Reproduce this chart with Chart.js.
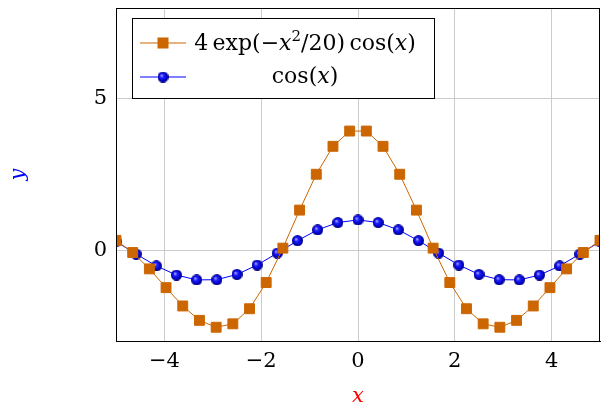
<!DOCTYPE html>
<html>
<head>
<meta charset="utf-8">
<script src="https://cdn.jsdelivr.net/npm/chart.js@4"></script>
<style>
  html, body { margin: 0; padding: 0; background: #fff; }
  #wrap { width: 608px; height: 403px; }
</style>
</head>
<body>
<div id="wrap"><canvas id="plot"></canvas></div>
<script>
// sample positions and values
const gaussX = [-5, -4.655, -4.310, -3.966, -3.621, -3.276, -2.931, -2.586, -2.241, -1.897,
  -1.552, -1.207, -0.862, -0.517, -0.172, 0.172, 0.517, 0.862, 1.207, 1.552,
  1.897, 2.241, 2.586, 2.931, 3.276, 3.621, 3.966, 4.310, 4.655, 5];
const gaussY = [0.325, -0.077, -0.618, -1.238, -1.843, -2.318, -2.546, -2.433, -1.934, -1.069,
  0.068, 1.324, 2.508, 3.431, 3.935, 3.935, 3.431, 2.508, 1.324, 0.068,
  -1.069, -1.934, -2.433, -2.546, -2.318, -1.843, -1.238, -0.618, -0.077, 0.325];
const cosX = [-5, -4.583, -4.167, -3.75, -3.333, -2.917, -2.5, -2.083, -1.667, -1.25, -0.833, -0.417, 0,
  0.417, 0.833, 1.25, 1.667, 2.083, 2.5, 2.917, 3.333, 3.75, 4.167, 4.583, 5];
const cosY = [0.284, -0.129, -0.519, -0.821, -0.982, -0.975, -0.801, -0.490, -0.096, 0.315, 0.672, 0.914, 1.0,
  0.914, 0.672, 0.315, -0.096, -0.490, -0.801, -0.975, -0.982, -0.821, -0.519, -0.129, 0.284];
const xTicks = [-4, -2, 0, 2, 4];
const yTicks = [0, 5];

const orange = "#cc6600";
const blue = "#0000ff";
const serif = "'DejaVu Serif', serif";

// shaded ball marker like pgfplots "ball"
const makeBall = (d) => {
  const c = document.createElement("canvas");
  c.width = d; c.height = d;
  const g = c.getContext("2d");
  const r = d / 2;
  const grad = g.createRadialGradient(r * 0.7, r * 0.7, 0, r, r, r);
  grad.addColorStop(0, "#c8c8ff");
  grad.addColorStop(0.35, "#2020ff");
  grad.addColorStop(0.8, "#0000c0");
  grad.addColorStop(1, "#000070");
  g.fillStyle = grad;
  g.beginPath();
  g.arc(r, r, r, 0, Math.PI * 2);
  g.fill();
  return c;
};
const ball = makeBall(11);

const toPts = (xs, ys) => xs.map((x, i) => ({ x: x, y: ys[i] }));
const minus = (v) => String(v).replace("-", "\u2212");

const frame = {
  id: "frame",
  afterDraw(chart) {
    const { ctx, chartArea: a } = chart;
    ctx.save();
    ctx.strokeStyle = "#000";
    ctx.lineWidth = 1;
    ctx.strokeRect(Math.round(a.left) + 0.5, Math.round(a.top) + 0.5,
      Math.round(a.right - a.left) - 1, Math.round(a.bottom - a.top));

    // legend box
    const bx = 132.5, by = 18.5, bw = 302, bh = 80;
    ctx.fillStyle = "#fff";
    ctx.fillRect(bx, by, bw, bh);
    ctx.strokeRect(bx, by, bw, bh);

    const rows = [43, 77];
    // sample lines
    ctx.lineWidth = 1;
    ctx.strokeStyle = orange;
    ctx.beginPath(); ctx.moveTo(140, rows[0]); ctx.lineTo(186, rows[0]); ctx.stroke();
    ctx.fillStyle = orange;
    ctx.fillRect(157.5, rows[0] - 5.5, 11, 11);
    ctx.strokeStyle = blue;
    ctx.beginPath(); ctx.moveTo(140, rows[1]); ctx.lineTo(186, rows[1]); ctx.stroke();
    ctx.drawImage(ball, 163 - 5.5, rows[1] - 5.5);

    // rich text
    const up = "22px " + serif, it = "italic 22px " + serif, sm = "15px " + serif;
    const line1 = [["4\u2009exp(\u2212", up, 0], ["x", it, 0], ["2", sm, -9], ["/20)\u2009cos(", up, 0], ["x", it, 0], [")", up, 0]];
    const line2 = [["cos(", up, 0], ["x", it, 0], [")", up, 0]];
    const base = [50, 83];
    const center = 305;
    ctx.fillStyle = "#000";
    ctx.textBaseline = "alphabetic";
    [line1, line2].forEach((parts, k) => {
      let w = 0;
      parts.forEach(p => { ctx.font = p[1]; w += ctx.measureText(p[0]).width; });
      let x = center - w / 2;
      parts.forEach(p => {
        ctx.font = p[1];
        ctx.fillText(p[0], x, base[k] + p[2]);
        x += ctx.measureText(p[0]).width;
      });
    });
    ctx.restore();
  }
};

new Chart(document.querySelector("#plot"), {
  type: "scatter",
  data: {
    datasets: [
      {
        label: "gauss",
        data: toPts(gaussX, gaussY),
        showLine: true,
        borderColor: orange,
        borderWidth: 1,
        backgroundColor: orange,
        pointStyle: "rect",
        pointRadius: 7,
        pointBorderWidth: 1,
        pointBorderColor: orange,
      },
      {
        label: "cos",
        data: toPts(cosX, cosY),
        showLine: true,
        borderColor: blue,
        borderWidth: 1,
        backgroundColor: blue,
        pointStyle: ball,
        pointRadius: 5,
      },
    ],
  },
  options: {
    responsive: true,
    maintainAspectRatio: false,
    animation: false,
    layout: { padding: { top: 7, right: 5, left: 0, bottom: 0 } },
    plugins: { legend: { display: false }, tooltip: { enabled: false } },
    scales: {
      x: {
        type: "linear",
        min: -5,
        max: 5,
        afterBuildTicks: (s) => { s.ticks = xTicks.map(v => ({ value: v })); },
        afterFit: (s) => { s.height = 62; s.paddingLeft = 0; s.paddingRight = 0; },
        grid: { color: "#cccccc", drawTicks: false },
        border: { color: "#000" },
        ticks: { color: "#000", padding: 8, font: { family: serif, size: 21 }, callback: minus },
        title: { display: true, text: "x", color: "#ff0000", padding: { top: 0, bottom: -4 }, font: { family: serif, size: 21, style: "italic", lineHeight: 1 } },
      },
      y: {
        type: "linear",
        min: -3,
        max: 8,
        afterBuildTicks: (s) => { s.ticks = yTicks.map(v => ({ value: v })); },
        afterFit: (s) => { s.width = 116; s.paddingTop = 0; s.paddingBottom = 0; },
        grid: { color: "#cccccc", drawTicks: false },
        border: { color: "#000" },
        ticks: { color: "#000", padding: 9, font: { family: serif, size: 21 }, callback: minus },
        title: { display: true, text: "y", color: "#0000ff", padding: 8, font: { family: serif, size: 21, style: "italic", lineHeight: 1 } },
      },
    },
  },
  plugins: [frame],
});
</script>
</body>
</html>
